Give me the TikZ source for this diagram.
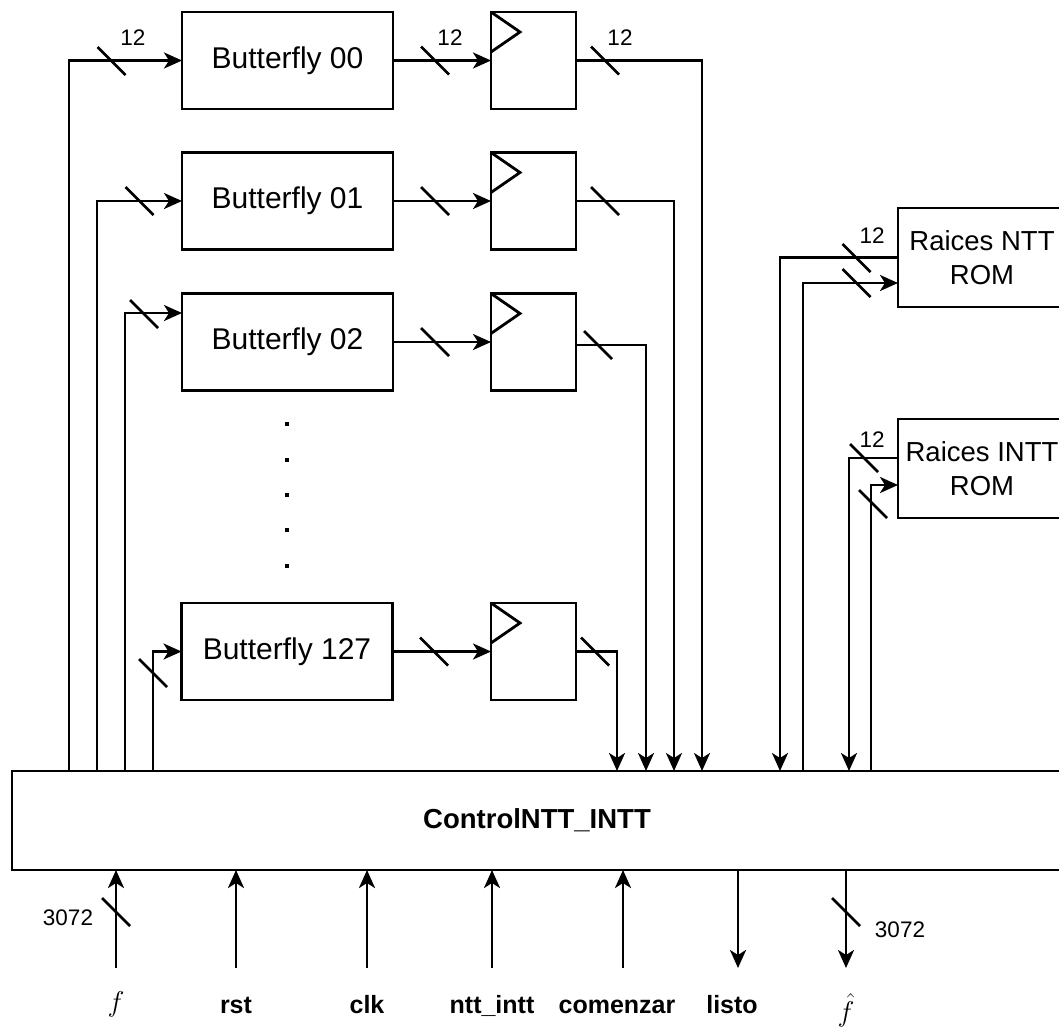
\documentclass[tikz,border=0pt]{standalone}
\usepackage{graphicx}
\usepackage{fontspec}
\setmainfont{Liberation Sans}
\usetikzlibrary{arrows.meta,calc}
\tikzset{
  bus/.pic={\draw (-14,-14) -- (14,14);},
}
\begin{document}
\begin{tikzpicture}[x=1pt,y=-1pt,
  line width=2.8pt,
  arr/.style={-{Stealth[length=18pt,width=16pt,inset=5pt]}},
  box/.style={draw, inner sep=0pt, outer sep=0pt, align=center},
  bfly/.style={box, minimum width=211pt, minimum height=97pt, font=\fontsize{30}{36}\selectfont},
  reg/.style={box, minimum width=85pt, minimum height=97pt},
  rom/.style={box, minimum width=168pt, minimum height=99pt, font=\fontsize{27.5}{34}\selectfont},
  num/.style={font=\fontsize{22.5}{27}\selectfont, inner sep=0pt},
  lab/.style={font=\fontsize{25}{30}\selectfont\bfseries, inner sep=0pt, anchor=base},
  mlab/.style={font=\fontsize{24.88}{30}\selectfont, inner sep=0pt, anchor=base},
]
\useasboundingbox (0,0) rectangle (1059,1026);
\fill[white] (0,0) rectangle (1059,1026);
\clip (0,0) rectangle (1059,1026);

% butterflies
\node[bfly] (b0) at (287.5,60.5) {Butterfly 00};
\node[bfly] (b1) at (287.5,201) {Butterfly 01};
\node[bfly] (b2) at (287.5,342) {Butterfly 02};
\node[bfly] (b3) at (287,651.5) {Butterfly 127};

% registers
\foreach \n/\y in {r0/60.5, r1/201, r2/342, r3/651.5}{
  \node[reg] (\n) at (533.5,\y) {};
  \draw (\n.north west) -- ([xshift=29pt,yshift=-20pt]\n.north west) -- ([yshift=-40pt]\n.north west);
}

% ROMs
\node[rom] (rom1) at (982,257.5) {Raices NTT\\ROM};
\node[rom] (rom2) at (982,468.5) {Raices INTT\\ROM};

% control
\node[box, minimum width=1050pt, minimum height=99pt,
      font=\fontsize{27.5}{33}\selectfont\bfseries] (ctrl) at (537,820.5) {ControlNTT\_INTT};

% dots
\foreach \y in {424,460,495,530,566}{
  \fill (285,\y-2) rectangle (289,\y+2);
}

% inputs to butterflies
\draw[arr] ([xshift=57pt]ctrl.north west) |- (b0.west);
\draw[arr] ([xshift=85pt]ctrl.north west) |- (b1.west);
\draw[arr] ([xshift=113pt]ctrl.north west) |- ([yshift=29pt]b2.west);
\draw[arr] ([xshift=141pt]ctrl.north west) |- (b3.west);

% butterfly -> register
\draw[arr] (b0.east) -- (r0.west);
\draw[arr] (b1.east) -- (r1.west);
\draw[arr] (b2.east) -- (r2.west);
\draw[arr] (b3.east) -- (r3.west);

% register -> control
\draw[arr] (r0.east) -| ([xshift=690pt]ctrl.north west);
\draw[arr] (r1.east) -| ([xshift=662pt]ctrl.north west);
\draw[arr] ([yshift=-3pt]r2.east) -| ([xshift=634pt]ctrl.north west);
\draw[arr] (r3.east) -| ([xshift=605pt]ctrl.north west);

% ROM connections
\draw[arr] (rom1.west) -| ([xshift=768pt]ctrl.north west);
\draw[arr] ([xshift=791pt]ctrl.north west) |- ([yshift=-25.5pt]rom1.west);
\draw[arr] ([yshift=10.5pt]rom2.west) -| ([xshift=837pt]ctrl.north west);
\draw[arr] ([xshift=859pt]ctrl.north west) |- ([yshift=-16.5pt]rom2.west);

% bottom signals
\coordinate (pf) at (116,968);
\coordinate (prst) at (236,968);
\coordinate (pclk) at (367,968);
\coordinate (pnt) at (492,968);
\coordinate (pcom) at (623,968);
\coordinate (plis) at (738,968);
\coordinate (pfh) at (846,968);
\draw[arr] (pf) -- (pf |- ctrl.south);
\draw[arr] (prst) -- (prst |- ctrl.south);
\draw[arr] (pclk) -- (pclk |- ctrl.south);
\draw[arr] (pnt) -- (pnt |- ctrl.south);
\draw[arr] (pcom) -- (pcom |- ctrl.south);
\draw[arr] (plis |- ctrl.south) -- (plis);
\draw[arr] (pfh |- ctrl.south) -- (pfh);

\node[mlab] (lf) at (116,1011.5) {\scalebox{1.15}{$f$}};
\node[lab] (lrst) at (236,1013) {rst};
\node[lab] (lclk) at (367,1013) {clk};
\node[lab] (lnt) at (492,1013) {ntt\_intt};
\node[lab] (lcom) at (617,1013) {comenzar};
\node[lab] (llis) at (732,1013) {listo};
\node[mlab] (lfh) at (846,1021) {\scalebox{1.15}{$\hat{f}$}};

% bus slashes
\foreach \p in {(111.5,61),(139.5,201),(144,314),(153,673),
                (435,60.5),(435,201),(435,342),(434,651.5),
                (605,60.5),(605,201),(598,345),(595,651.5),
                (856.5,258),(856.5,283),(864,458),(873,504),
                (116,912),(846,912)}{
  \pic at \p {bus};
}

% width labels
\node[num] (n1) at (133,38) {12};
\node[num] (n2) at (450,38) {12};
\node[num] (n3) at (620,38) {12};
\node[num] (n4) at (872,236) {12};
\node[num] (n5) at (872,440) {12};
\node[num] (n6) at (68,918) {3072};
\node[num] (n7) at (900,930) {3072};
\end{tikzpicture}
\end{document}
